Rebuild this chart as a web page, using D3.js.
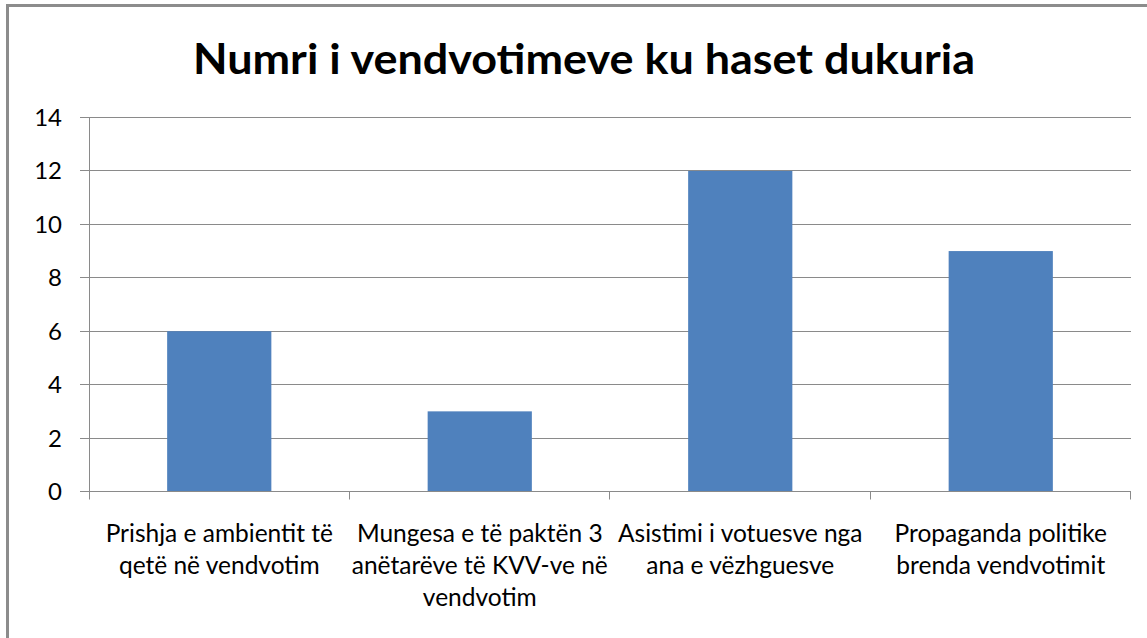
<!DOCTYPE html>
<html>
<head>
<meta charset="utf-8">
<script src="https://cdn.jsdelivr.net/npm/d3@7"></script>
<style>
  html, body { margin: 0; padding: 0; background: #fff; }
  svg { display: block; }
  text { font-family: Lato, "Open Sans", sans-serif; fill: #000; }
</style>
</head>
<body>
<div id="chart"></div>
<script>
// chart data
var title = "Numri i vendvotimeve ku haset dukuria";
var categories = [
    "Prishja e ambientit të\nqetë në vendvotim",
    "Mungesa e të paktën 3\nanëtarëve të KVV-ve në\nvendvotim",
    "Asistimi i votuesve nga\nana e vëzhguesve",
    "Propaganda politike\nbrenda vendvotimit"
];
var values = [6, 3, 12, 9];
var yTicks = [0, 2, 4, 6, 8, 10, 12, 14];

var chart = (function () {
    var W = 1147,
        H = 638,
        left = 89,
        right = 1131,
        top = 117.5,
        bottom = 491.5,
        gridColor = "#8a8a8a";

    return {
        draw: function (sel) {
            var svg = d3.select(sel).append("svg").attr("width", W).attr("height", H);

            // outer frame (only top and left edges are visible in the picture)
            svg.append("line").attr("x1", 7).attr("x2", W).attr("y1", 5.5).attr("y2", 5.5)
                .attr("stroke", "#8c8c8c").attr("stroke-width", 3);
            svg.append("line").attr("x1", 7.5).attr("x2", 7.5).attr("y1", 4).attr("y2", H)
                .attr("stroke", "#8c8c8c").attr("stroke-width", 3);

            svg.append("text")
                .attr("x", 584).attr("y", 74)
                .attr("text-anchor", "middle")
                .attr("font-size", 42).attr("font-weight", "bold")
                .attr("textLength", 782).attr("lengthAdjust", "spacingAndGlyphs")
                .text(title);

            var y = d3.scaleLinear().domain([0, 14]).range([bottom, top]);
            var x = d3.scaleBand().domain(categories).range([left, right]).padding(0);

            // gridlines + y ticks
            var g = svg.append("g");
            g.selectAll("line.grid").data(yTicks).enter().append("line")
                .attr("class", "grid")
                .attr("x1", left - 9).attr("x2", right)
                .attr("y1", function (d) { return Math.round(y(d) - 0.5) + 0.5; })
                .attr("y2", function (d) { return Math.round(y(d) - 0.5) + 0.5; })
                .attr("stroke", gridColor).attr("stroke-width", 1);
            g.selectAll("text.yt").data(yTicks).enter().append("text")
                .attr("class", "yt")
                .attr("x", 62).attr("y", function (d) { return y(d) + 8.5; })
                .attr("text-anchor", "end").attr("font-size", 24).attr("fill", "#111")
                .text(function (d) { return d; });

            // y axis line
            svg.append("line").attr("x1", left + 0.5).attr("x2", left + 0.5)
                .attr("y1", top).attr("y2", bottom + 8)
                .attr("stroke", gridColor);

            // category boundary ticks
            var bounds = categories.map(function (c) { return x(c); }).concat([right]);
            svg.selectAll("line.ct").data(bounds.slice(1)).enter().append("line")
                .attr("class", "ct")
                .attr("x1", function (d) { return Math.round(d) - 0.5; })
                .attr("x2", function (d) { return Math.round(d) - 0.5; })
                .attr("y1", bottom).attr("y2", bottom + 8)
                .attr("stroke", gridColor);

            // bars
            var bw = x.bandwidth() * 0.4;
            svg.selectAll("rect.bar").data(values).enter().append("rect")
                .attr("class", "bar")
                .attr("x", function (d, i) { return x(categories[i]) + (x.bandwidth() - bw) / 2; })
                .attr("width", bw)
                .attr("y", function (d) { return y(d); })
                .attr("height", function (d) { return y(0) - y(d); })
                .attr("fill", "#4f81bd");

            // baseline over the bars
            svg.append("line").attr("x1", left).attr("x2", right)
                .attr("y1", bottom).attr("y2", bottom)
                .attr("stroke", gridColor);

            // category labels
            var lab = svg.selectAll("text.cat").data(categories).enter().append("text")
                .attr("class", "cat")
                .attr("text-anchor", "middle")
                .attr("font-size", 24.5).attr("fill", "#111")
                .attr("transform", function (d) { return "translate(" + (x(d) + x.bandwidth() / 2) + ",542)"; });
            lab.selectAll("tspan").data(function (d) { return d.split("\n"); }).enter().append("tspan")
                .attr("x", 0)
                .attr("y", function (d, i) { return i * 32; })
                .text(function (d) { return d; });
        }
    };
})();

chart.draw("#chart");
</script>
</body>
</html>
